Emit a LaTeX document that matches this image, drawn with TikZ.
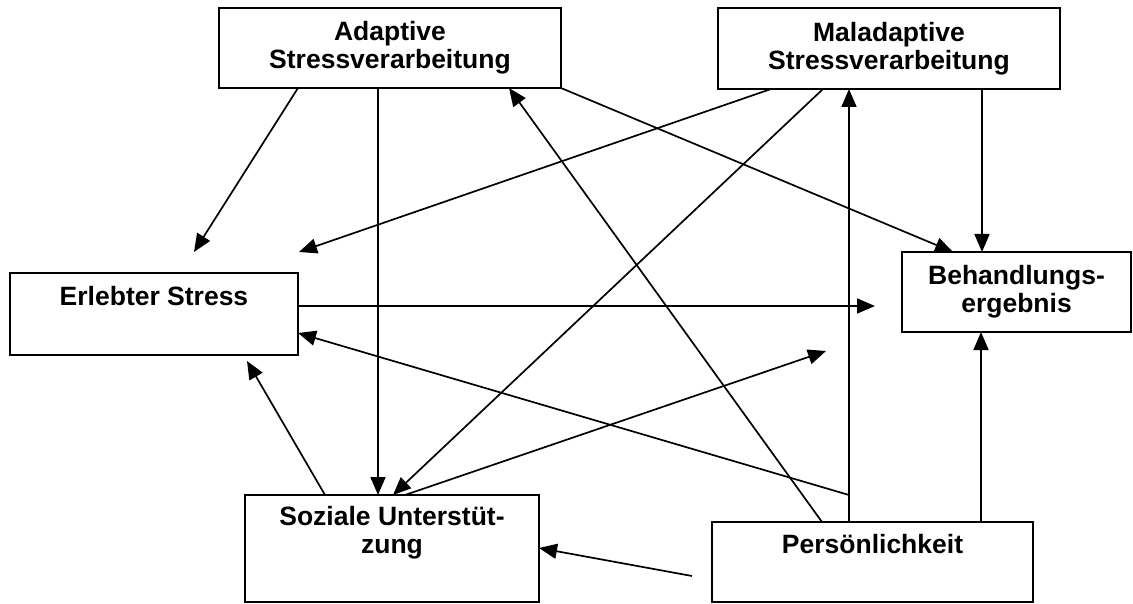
\documentclass[tikz,border=0pt]{standalone}
\usepackage{fontspec}
\setmainfont{Liberation Sans}
\usetikzlibrary{arrows.meta}
\begin{document}
\begin{tikzpicture}[x=1pt,y=-1pt,
  box/.style={draw, line width=1.9pt, inner sep=0pt, outer sep=0pt, align=center,
    anchor=north west, font=\fontsize{26.5}{28}\selectfont\bfseries},
  link/.style={line width=1.7pt, -{Triangle[length=18pt,width=15pt]}}]
\useasboundingbox (0,0) rectangle (1133,604);

% boxes
\node[box, minimum width=342pt, minimum height=80pt] (adapt) at (219,8) {Adaptive\\Stressverarbeitung};
\node[box, minimum width=342pt, minimum height=81pt] (mal) at (718,8) {Maladaptive\\Stressverarbeitung};
\node[box, minimum width=288pt, minimum height=82pt] (erl) at (10,273) {Erlebter Stress\\\strut};
\node[box, minimum width=229pt, minimum height=80pt] (beh) at (902,252) {Behandlungs-\\ergebnis};
\node[box, minimum width=294pt, minimum height=107pt] (soz) at (245,495) {Soziale Unterstüt-\\zung\\\strut};
\node[box, minimum width=321pt, minimum height=80pt] (pers) at (712,522) {Persönlichkeit\\\strut};

% free ends of connectors
\coordinate (f1) at (194,252);
\coordinate (f5) at (299,252);
\coordinate (f9) at (875,306);
\coordinate (j10) at (849,495);
\coordinate (f11) at (247,361);
\coordinate (f12) at (826,351);
\coordinate (f13) at (692,576);

% connectors
\draw[link] (298,0 |- adapt.south) -- (f1);
\draw[link] (378,0 |- adapt.south) -- (378,0 |- soz.north);
\draw[link] (822,0 |- pers.north) -- (509,0 |- adapt.south);
\draw[link] (adapt.south east) -- (953,0 |- beh.north);
\draw[link] (771,0 |- mal.south) -- (f5);
\draw[link] (823,0 |- mal.south) -- (393,0 |- soz.north);
\draw[link] (849,0 |- pers.north) -- (849,0 |- mal.south);
\draw[link] (982,0 |- mal.south) -- (982,0 |- beh.north);
\draw[link] (erl.east |- 0,306) -- (f9);
\draw[link] (j10) -- (erl.east |- 0,333);
\draw[link] (325,0 |- soz.north) -- (f11);
\draw[link] (405,0 |- soz.north) -- (f12);
\draw[link] (f13) -- (soz.east |- 0,548);
\draw[link] (981,0 |- pers.north) -- (981,0 |- beh.south);
\end{tikzpicture}
\end{document}
